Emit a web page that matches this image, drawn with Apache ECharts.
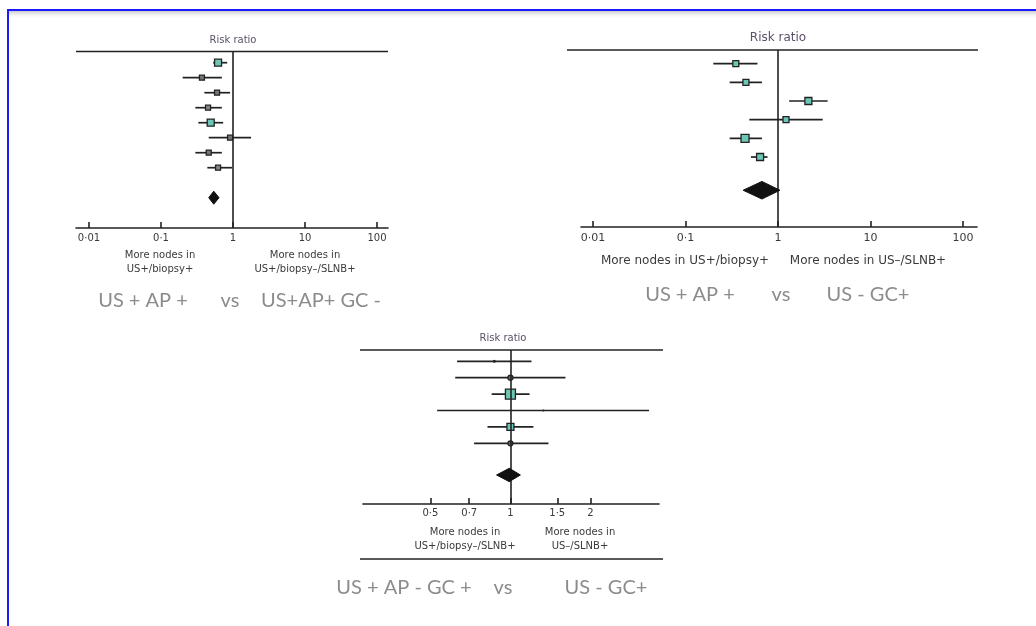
<!DOCTYPE html>
<html>
<head>
<meta charset="utf-8">
<script src="https://cdn.jsdelivr.net/npm/echarts@6/dist/echarts.min.js"></script>
<style>
html,body{margin:0;padding:0;background:#fff;}
#chart{width:1036px;height:626px;}
</style>
</head>
<body>
<div id="chart"></div>
<script>
// ---------- DATA ----------
// Panel A: US + AP + vs US+AP+ GC -
const aTicks = [0.01, 0.1, 1, 10, 100];
const aTickLabels = ['0·01', '0·1', '1', '10', '100'];
const aEst  = [0.62, 0.37, 0.60, 0.45, 0.49, 0.91, 0.46, 0.62];
const aLow  = [0.53, 0.20, 0.40, 0.30, 0.33, 0.46, 0.30, 0.44];
const aHigh = [0.83, 0.70, 0.91, 0.70, 0.73, 1.78, 0.70, 0.97];
const aPooled = [0.54, 0.46, 0.64]; // estimate, low, high

// Panel B: US + AP + vs US - GC+
const bTicks = [0.01, 0.1, 1, 10, 100];
const bTickLabels = ['0·01', '0·1', '1', '10', '100'];
const bEst  = [0.35, 0.45, 2.13, 1.22, 0.44, 0.64];
const bLow  = [0.20, 0.30, 1.32, 0.49, 0.30, 0.51];
const bHigh = [0.60, 0.67, 3.44, 3.04, 0.67, 0.77];
const bPooled = [0.67, 0.42, 1.05];

// Panel C: US + AP - GC + vs US - GC+
const cTicks = [0.5, 0.7, 1, 1.5, 2];
const cTickLabels = ['0·5', '0·7', '1', '1·5', '2'];
const cEst  = [0.87, 1.00, 1.00, 1.33, 1.00, 1.00];
const cLow  = [0.63, 0.62, 0.85, 0.53, 0.82, 0.73];
const cHigh = [1.20, 1.61, 1.18, 3.32, 1.22, 1.39];
const cPooled = [0.99, 0.887, 1.09];

// ---------- STYLE / LAYOUT ----------
const TEAL = '#6cc7b6';
const FONT = '"DejaVu Sans", sans-serif';
const CAP_FONT = 'Lato, "Open Sans", sans-serif';

const panels = [
  {
    ticks: aTicks, labels: aTickLabels, est: aEst, low: aLow, high: aHigh, pooled: aPooled,
    grid: {left: 76, right: 1036 - 388, top: 51.5, bottom: 626 - 228},
    xMin: 0.0066, xMax: 142, yMin: 0.253, yMax: 12.02, diamondRow: 10, diamondHalf: 6.5,
    labelSize: 10, labelMargin: 5,
    markers: [
      {s: 7, c: TEAL, shape: 'rect'}, {s: 5, c: '#777', shape: 'rect'}, {s: 5, c: '#777', shape: 'rect'},
      {s: 5, c: '#888', shape: 'rect'}, {s: 7, c: TEAL, shape: 'rect'}, {s: 5, c: '#777', shape: 'rect'},
      {s: 5, c: '#777', shape: 'rect'}, {s: 5, c: '#888', shape: 'rect'}
    ]
  },
  {
    ticks: bTicks, labels: bTickLabels, est: bEst, low: bLow, high: bHigh, pooled: bPooled,
    grid: {left: 581, right: 1036 - 977, top: 50, bottom: 626 - 227},
    xMin: 0.00742, xMax: 141.6, yMin: 0.266, yMax: 9.75, diamondRow: 7.78, diamondHalf: 8.8,
    labelSize: 11, labelMargin: 6,
    markers: [
      {s: 6, c: TEAL, shape: 'rect'}, {s: 6, c: TEAL, shape: 'rect'}, {s: 7, c: TEAL, shape: 'rect'},
      {s: 6, c: TEAL, shape: 'rect'}, {s: 8, c: TEAL, shape: 'rect'}, {s: 7, c: TEAL, shape: 'rect'}
    ]
  },
  {
    ticks: cTicks, labels: cTickLabels, est: cEst, low: cLow, high: cHigh, pooled: cPooled,
    grid: {left: 363, right: 1036 - 659, top: 350, bottom: 626 - 504},
    xMin: 0.279, xMax: 3.62, yMin: 0.311, yMax: 9.70, diamondRow: 7.93, diamondHalf: 6.7,
    labelSize: 10, labelMargin: 4,
    markers: [
      {s: 3, c: '#222', shape: 'circle'}, {s: 5, c: '#666', shape: 'circle'}, {s: 10, c: TEAL, shape: 'rect'},
      {s: 2, c: '#222', shape: 'circle'}, {s: 7, c: TEAL, shape: 'rect'}, {s: 5, c: '#666', shape: 'circle'}
    ]
  }
];

const grids = [], xAxes = [], yAxes = [], series = [];

panels.forEach((p, k) => {
  grids.push(Object.assign({containLabel: false}, p.grid));
  xAxes.push({
    type: 'log', logBase: 10, gridIndex: k, min: p.xMin, max: p.xMax,
    axisLine: {show: true, lineStyle: {color: '#222', width: 1.6}},
    axisTick: {show: true, inside: true, length: 6, lineStyle: {color: '#222', width: 1.6}, customValues: p.ticks},
    axisLabel: {
      show: true, margin: p.labelMargin, color: '#3a3a3a', fontFamily: FONT, fontSize: p.labelSize,
      customValues: p.ticks,
      formatter: (v) => {
        let best = 0, bd = Infinity;
        p.ticks.forEach((t, i) => { const d = Math.abs(Math.log(t) - Math.log(v)); if (d < bd) { bd = d; best = i; } });
        return p.labels[best];
      }
    },
    splitLine: {show: false}, minorTick: {show: false}
  });
  yAxes.push({type: 'value', gridIndex: k, inverse: true, min: p.yMin, max: p.yMax, show: false});

  // confidence intervals + reference line at 1
  series.push({
    type: 'custom', xAxisIndex: k, yAxisIndex: k, z: 2, silent: true,
    encode: {x: [0, 1], y: 2},
    data: p.est.map((_, i) => [p.low[i], p.high[i], i + 1]),
    renderItem: (params, api) => {
      const a = api.coord([api.value(0), api.value(2)]);
      const b = api.coord([api.value(1), api.value(2)]);
      return {type: 'line', shape: {x1: a[0], y1: a[1], x2: b[0], y2: b[1]}, style: {stroke: '#222', lineWidth: 1.7}};
    },
    markLine: {
      silent: true, symbol: 'none', label: {show: false}, animation: false,
      lineStyle: {color: '#222', width: 1.6, type: 'solid'},
      data: [{xAxis: 1}]
    }
  });

  // point estimates
  series.push({
    type: 'scatter', xAxisIndex: k, yAxisIndex: k, z: 4, silent: true,
    data: p.est.map((v, i) => ({
      value: [v, i + 1],
      symbol: p.markers[i].shape,
      symbolSize: p.markers[i].s,
      itemStyle: {color: p.markers[i].c, borderColor: '#222', borderWidth: p.markers[i].s > 3 ? 1.3 : 0, opacity: 1}
    }))
  });

  // pooled diamond
  series.push({
    type: 'custom', xAxisIndex: k, yAxisIndex: k, z: 5, silent: true,
    encode: {x: [0, 1, 2], y: 3},
    data: [[p.pooled[0], p.pooled[1], p.pooled[2], p.diamondRow]],
    renderItem: (params, api) => {
      const c = api.coord([api.value(0), api.value(3)]);
      const l = api.coord([api.value(1), api.value(3)]);
      const r = api.coord([api.value(2), api.value(3)]);
      const h = p.diamondHalf;
      return {type: 'polygon', shape: {points: [[l[0], c[1]], [c[0], c[1] - h], [r[0], c[1]], [c[0], c[1] + h]]},
              style: {fill: '#111', stroke: '#111', lineWidth: 1}};
    }
  });
});

function txt(x, y, s, size, color, font, align) {
  return {type: 'text', x: x, y: y, silent: true,
    style: {text: s, fontSize: size, fill: color, fontFamily: font || FONT, align: align || 'center', verticalAlign: 'middle'}};
}
function hline(x1, x2, y, w) {
  return {type: 'line', silent: true, shape: {x1: x1, y1: y, x2: x2, y2: y}, style: {stroke: '#222', lineWidth: w || 1.6}};
}

const graphic = [
  // page frame
  {type: 'rect', silent: true, shape: {x: 9, y: 11, width: 1027, height: 8},
   style: {fill: {type: 'linear', x: 0, y: 0, x2: 0, y2: 1, colorStops: [{offset: 0, color: 'rgba(160,160,160,0.55)'}, {offset: 1, color: 'rgba(255,255,255,0)'}]}}},
  {type: 'line', silent: true, shape: {x1: 7, y1: 10, x2: 1036, y2: 10}, style: {stroke: '#1a1aff', lineWidth: 2}},
  {type: 'line', silent: true, shape: {x1: 8, y1: 9, x2: 8, y2: 626}, style: {stroke: '#1a1aff', lineWidth: 2}},

  // panel A
  hline(76, 388, 51.5),
  txt(233, 40, 'Risk ratio', 10, '#5b5068'),
  txt(160, 255, 'More nodes in', 10, '#3a3a3a'),
  txt(160, 269, 'US+/biopsy+', 10, '#3a3a3a'),
  txt(305, 255, 'More nodes in', 10, '#3a3a3a'),
  txt(305, 269, 'US+/biopsy–/SLNB+', 10, '#3a3a3a'),
  txt(143, 301, 'US + AP +', 20, '#8c8c8c', CAP_FONT),
  txt(230, 301, 'vs', 20, '#8c8c8c', CAP_FONT),
  txt(321, 301, 'US+AP+ GC -', 20, '#8c8c8c', CAP_FONT),

  // panel B
  hline(567, 978, 50),
  txt(778, 38, 'Risk ratio', 12, '#5b5068'),
  txt(685, 261, 'More nodes in US+/biopsy+', 12, '#3a3a3a'),
  txt(868, 261, 'More nodes in US–/SLNB+', 12, '#3a3a3a'),
  txt(690, 295, 'US + AP +', 20, '#8c8c8c', CAP_FONT),
  txt(781, 295, 'vs', 20, '#8c8c8c', CAP_FONT),
  txt(868, 295, 'US - GC+', 20, '#8c8c8c', CAP_FONT),

  // panel C
  hline(360, 663, 350),
  txt(503, 338, 'Risk ratio', 10, '#5b5068'),
  txt(465, 532, 'More nodes in', 10, '#3a3a3a'),
  txt(465, 546, 'US+/biopsy–/SLNB+', 10, '#3a3a3a'),
  txt(580, 532, 'More nodes in', 10, '#3a3a3a'),
  txt(580, 546, 'US–/SLNB+', 10, '#3a3a3a'),
  hline(360, 663, 559),
  txt(404, 588, 'US + AP - GC +', 20, '#8c8c8c', CAP_FONT),
  txt(503, 588, 'vs', 20, '#8c8c8c', CAP_FONT),
  txt(606, 588, 'US - GC+', 20, '#8c8c8c', CAP_FONT)
];

const chart = echarts.init(document.getElementById('chart'), null, {renderer: 'canvas'});
chart.setOption({
  animation: false,
  backgroundColor: '#fff',
  grid: grids,
  xAxis: xAxes,
  yAxis: yAxes,
  series: series,
  graphic: graphic
});
</script>
</body>
</html>
